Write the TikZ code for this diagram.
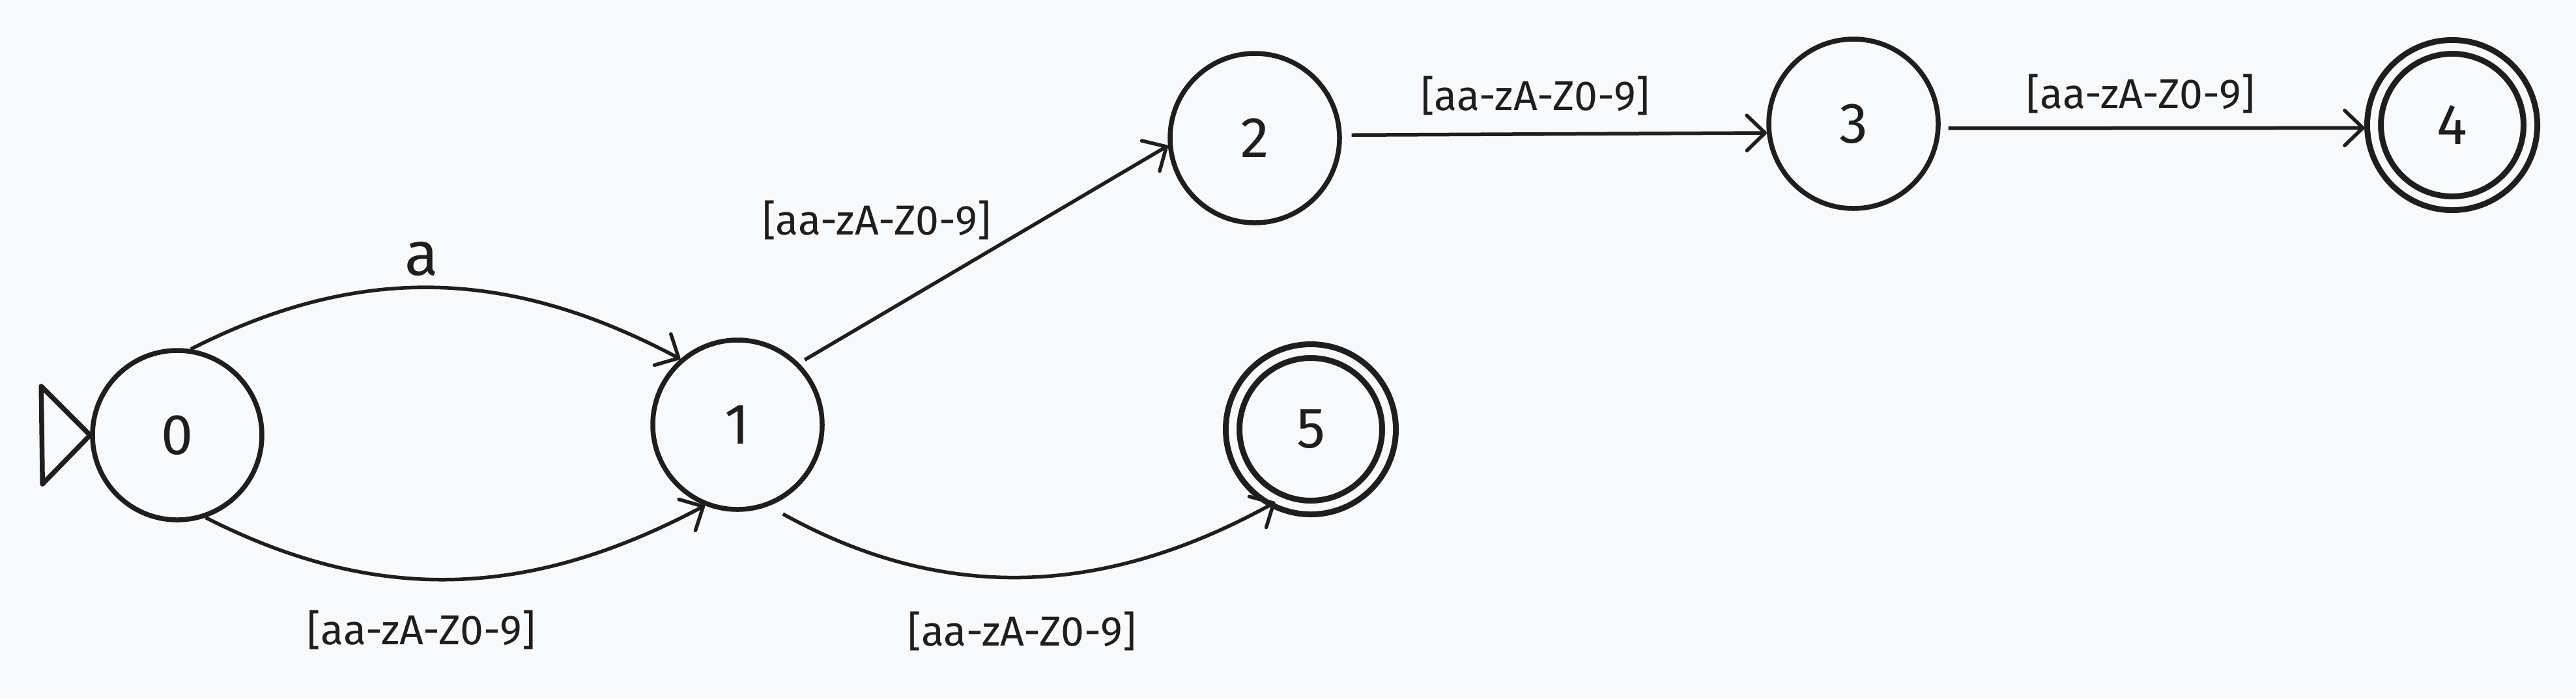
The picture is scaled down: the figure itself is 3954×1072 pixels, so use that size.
\documentclass[tikz,border=0pt]{standalone}
\usepackage{fontspec}
\setmainfont{Fira Sans}
\usetikzlibrary{arrows.meta}
\definecolor{inkdark}{HTML}{1E1E1E}
\definecolor{paperbg}{HTML}{F8F9FB}

\begin{document}
\begin{tikzpicture}[x=0.1mm,y=-0.1mm,
 state/.style={circle,draw=inkdark,line width=0.75mm,minimum size=26mm,inner sep=0pt,text=inkdark,font=\fontsize{25}{30}\selectfont},
 accept/.style={state,double=paperbg,double distance=1.2mm,line width=0.9mm,minimum size=24mm},
 trans/.style={draw=inkdark,line width=0.55mm,-{Straight Barb[length=2.8mm,width=5.4mm,round]}},
 lbl/.style={text=inkdark,font=\fontsize{18.3}{22}\selectfont}]
\fill[paperbg] (0,0) rectangle (3954,1072);
\useasboundingbox (0,0) rectangle (3954,1072);
% states
\node[state] (q0) at (272,668) {0};
\node[state] (q1) at (1132,652) {1};
\node[state] (q2) at (1926,212) {2};
\node[state] (q3) at (2845,190) {3};
\node[accept] (q4) at (3764,192) {4};
\node[accept] (q5) at (2012,659) {5};
% start marker
\draw[inkdark,line width=0.75mm,line join=round] (q0.west) -- ++(-75,-75) -- ++(2,150) -- cycle;
% transitions
\draw[trans] (q0.81) to[out=27,in=152] node[lbl,pos=0.47,above=0.3mm,font=\fontsize{27}{32}\selectfont] {a} (q1.131);
\draw[trans] (q0.-71) to[out=-27,in=-152] node[lbl,pos=0.43,below=3.4mm] {[aa-zA-Z0-9]} (q1.-112);
\draw[trans,shorten <=2.5mm] (q1.-69) to[out=-29,in=-151] node[lbl,below=4mm] {[aa-zA-Z0-9]} (q5.-116);
\draw[trans,shorten <=1mm] (q1.45) -- node[lbl,pos=0.21,above=10.5mm] {[aa-zA-Z0-9]} (q2.185);
\draw[trans,shorten <=1.5mm] (q2.2) -- node[lbl,pos=0.455,above=1.4mm] {[aa-zA-Z0-9]} (q3.186);
\draw[trans,shorten <=1.2mm,shorten >=1mm] (q3.-3) -- node[lbl,pos=0.465,above=0.8mm] {[aa-zA-Z0-9]} (q4.182);
\end{tikzpicture}
\end{document}
